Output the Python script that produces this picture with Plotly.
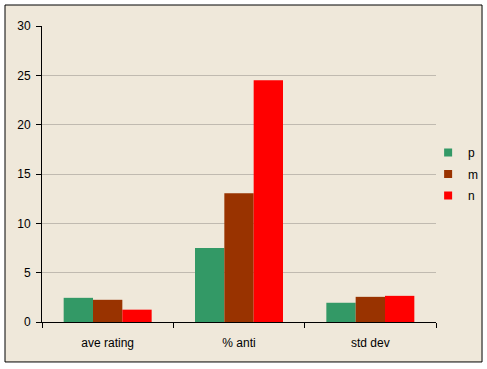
import plotly.graph_objects as go

categories = ["ave rating", "% anti", "std dev"]
series_names = ["p", "m", "n"]
p_values = [2.45, 7.5, 1.95]
m_values = [2.25, 13.05, 2.55]
n_values = [1.25, 24.5, 2.65]
colors = ["#339966", "#993300", "#FF0000"]
y_ticks = [0, 5, 10, 15, 20, 25, 30]

fig = go.Figure()
for name, vals, col in zip(series_names, [p_values, m_values, n_values], colors):
    fig.add_trace(go.Bar(x=categories, y=vals, name=name, marker=dict(color=col, line=dict(width=0)),
                         showlegend=False))
for name, col in zip(series_names, colors):
    fig.add_trace(go.Scatter(x=[None], y=[None], mode="markers", name=name, legendgroup=name,
                             marker=dict(symbol="square", size=8, color=col)))

font = dict(family="Liberation Sans, Arial, sans-serif", size=12, color="#000000")

fig.update_layout(
    width=487, height=369,
    margin=dict(l=42, r=51, t=26, b=47, autoexpand=False),
    paper_bgcolor="#FFFFFF",
    plot_bgcolor="rgba(0,0,0,0)",
    barmode="group",
    bargap=0.33,
    bargroupgap=0,
    font=font,
    legend=dict(x=0.98, y=0.5, xanchor="left", yanchor="middle", bgcolor="rgba(0,0,0,0)",
                font=dict(size=12), itemwidth=30, tracegroupgap=2.5),
    shapes=[dict(type="rect", xref="paper", yref="paper", x0=-0.0939, x1=1.1168, y0=-0.135, y1=1.0709,
                 fillcolor="#EFE8DA", line=dict(color="#000000", width=1), layer="below")],
    xaxis=dict(showline=True, linecolor="#000000", linewidth=1, ticks="outside", tickson="boundaries",
               ticklen=5, tickcolor="#000000", showgrid=False, tickfont=font, ticklabelstandoff=10),
    yaxis=dict(range=[0, 30], tickvals=y_ticks, showline=True, linecolor="#000000", linewidth=1,
               ticks="outside", ticklen=5, tickcolor="#000000", showgrid=True, gridcolor="#C0BAB0",
               gridwidth=1, zeroline=False, tickfont=font, ticklabelstandoff=3),
)

fig.write_html("out.html", config={"displayModeBar": False},
               post_script="document.body.style.margin='0';document.body.style.overflow='hidden';")
